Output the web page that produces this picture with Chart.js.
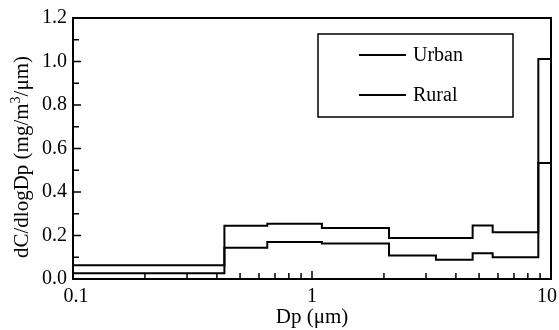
<!DOCTYPE html>
<html>
<head>
<meta charset="utf-8">
<script src="https://cdn.jsdelivr.net/npm/chart.js@4.4.0/dist/chart.umd.min.js"></script>
<style>
  html, body { margin: 0; padding: 0; background: #fff; }
  #wrap { width: 559px; height: 330px; }
</style>
</head>
<body>
<div id="wrap"><canvas id="sizeChart"></canvas></div>
<script>
// impactor stage edges (µm), last point closes the histogram at 10 µm
const binEdges = [0.1, 0.43, 0.65, 1.1, 2.1, 3.3, 4.7, 5.7, 8.85, 10];
const urbanValues = [0.063, 0.245, 0.254, 0.235, 0.189, 0.189, 0.246, 0.215, 1.012, 0];
const ruralValues = [0.027, 0.144, 0.170, 0.163, 0.108, 0.088, 0.118, 0.100, 0.533, 0];
const seriesNames = ['Urban', 'Rural'];
const xTickValues = [0.1, 1, 10];
const xTickLabels = ['0.1', '1', '10'];
const xMinorFactors = [2, 3, 4, 5, 6, 7, 8, 9];
const yMinorValues = [0.1, 0.3, 0.5, 0.7, 0.9, 1.1];

const serif = '"Liberation Serif", "Times New Roman", serif';

// inward ticks + closed frame, like the original plot
const frameTicks = {
    id: 'frameTicks',
    afterDatasetsDraw(chart) {
        const { ctx, chartArea: a, scales: { x, y } } = chart;
        ctx.save();
        ctx.strokeStyle = '#000';
        ctx.lineWidth = 1.5;
        ctx.beginPath();
        y.ticks.forEach(t => {
            const py = y.getPixelForValue(t.value);
            ctx.moveTo(a.left, py);
            ctx.lineTo(a.left + 8, py);
        });
        yMinorValues.forEach(v => {
            const py = y.getPixelForValue(v);
            ctx.moveTo(a.left, py);
            ctx.lineTo(a.left + 6, py);
        });
        xTickValues.forEach(v => {
            const px = x.getPixelForValue(v);
            ctx.moveTo(px, a.bottom);
            ctx.lineTo(px, a.bottom - 8);
        });
        [0.1, 1].forEach(d => {
            xMinorFactors.forEach(k => {
                const px = x.getPixelForValue(k * d);
                ctx.moveTo(px, a.bottom);
                ctx.lineTo(px, a.bottom - 6);
            });
        });
        ctx.stroke();
        ctx.lineWidth = 2;
        ctx.strokeRect(a.left, a.top, a.right - a.left, a.bottom - a.top);

        // x labels, end ones nudged inward so "10" stays on the canvas
        ctx.font = '20px ' + serif;
        ctx.fillStyle = '#000';
        ctx.textAlign = 'center';
        ctx.textBaseline = 'top';
        const nudge = [3, 0, -4];
        xTickValues.forEach((v, i) => {
            ctx.fillText(xTickLabels[i], x.getPixelForValue(v) + nudge[i], a.bottom + 8);
        });
        ctx.restore();
    }
};

// y title drawn by hand so the ³ can be a real superscript
const yTitle = {
    id: 'yTitle',
    afterDraw(chart) {
        const { ctx } = chart;
        const parts = [
            { t: 'dC/dlogDp (mg/m', size: 21, dy: 0 },
            { t: '3', size: 14, dy: -8 },
            { t: '/\u03bcm)', size: 21, dy: 0 }
        ];
        ctx.save();
        ctx.fillStyle = '#000';
        ctx.textBaseline = 'alphabetic';
        let total = 0;
        parts.forEach(p => {
            ctx.font = p.size + 'px ' + serif;
            p.w = ctx.measureText(p.t).width;
            total += p.w;
        });
        ctx.translate(28, 157);
        ctx.rotate(-Math.PI / 2);
        let cx = -total / 2;
        parts.forEach(p => {
            ctx.font = p.size + 'px ' + serif;
            ctx.fillText(p.t, cx, p.dy);
            cx += p.w;
        });
        ctx.restore();
    }
};

// boxed legend in the upper right of the plot
const boxLegend = {
    id: 'boxLegend',
    afterDraw(chart) {
        const { ctx } = chart;
        ctx.save();
        ctx.strokeStyle = '#000';
        ctx.lineWidth = 1.5;
        ctx.strokeRect(318, 34, 195, 83);
        ctx.font = '20px ' + serif;
        ctx.fillStyle = '#000';
        ctx.textBaseline = 'middle';
        chart.data.datasets.forEach((ds, i) => {
            const ly = 55 + i * 40;
            ctx.lineWidth = ds.borderWidth;
            ctx.beginPath();
            ctx.moveTo(359, ly);
            ctx.lineTo(406, ly);
            ctx.stroke();
            ctx.fillText(ds.label, 413, ly + 1);
        });
        ctx.restore();
    }
};

const ctx = document.getElementById('sizeChart').getContext('2d');
new Chart(ctx, {
    type: 'line',
    data: {
        datasets: [
            {
                label: seriesNames[0],
                data: binEdges.map((x, i) => ({ x: x, y: urbanValues[i] })),
                borderColor: '#000',
                borderWidth: 2,
                stepped: true,
                pointRadius: 0,
                fill: false
            },
            {
                label: seriesNames[1],
                data: binEdges.map((x, i) => ({ x: x, y: ruralValues[i] })),
                borderColor: '#000',
                borderWidth: 2,
                stepped: true,
                pointRadius: 0,
                fill: false
            }
        ]
    },
    options: {
        responsive: true,
        maintainAspectRatio: false,
        animation: false,
        layout: { padding: { top: 18, right: 8, left: 0, bottom: 0 } },
        plugins: {
            legend: { display: false },
            tooltip: { enabled: false }
        },
        scales: {
            x: {
                type: 'logarithmic',
                min: 0.1,
                max: 10,
                grid: { display: false, drawTicks: false },
                border: { display: false },
                afterBuildTicks: scale => {
                    scale.ticks = xTickValues.map(v => ({ value: v }));
                },
                afterFit: scale => {
                    scale.height = 51;
                    scale.paddingLeft = 0;
                    scale.paddingRight = 0;
                },
                ticks: { display: false },
                title: {
                    display: true,
                    text: 'Dp (\u03bcm)',
                    color: '#000',
                    padding: { top: 0, bottom: 0 },
                    font: { family: serif, size: 21 }
                }
            },
            y: {
                min: 0,
                max: 1.2,
                grid: { display: false, drawTicks: false },
                border: { display: false },
                afterFit: scale => {
                    scale.width = 73;
                    scale.paddingTop = 0;
                    scale.paddingBottom = 0;
                },
                ticks: {
                    stepSize: 0.2,
                    color: '#000',
                    padding: 6,
                    font: { family: serif, size: 20 },
                    callback: v => v.toFixed(1)
                },
                title: { display: false }
            }
        }
    },
    plugins: [frameTicks, yTitle, boxLegend]
});
</script>
</body>
</html>
